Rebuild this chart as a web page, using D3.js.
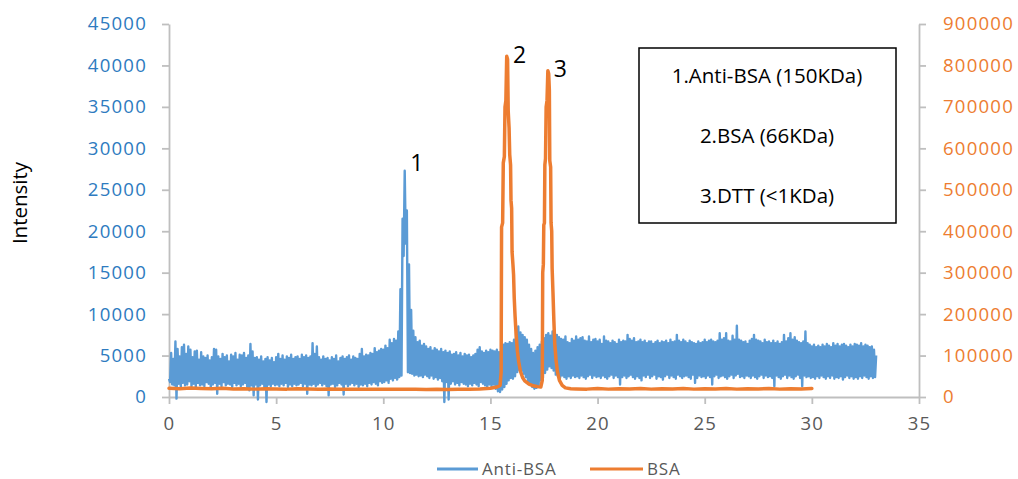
<!DOCTYPE html>
<meta charset="utf-8">
<head>
<style>
 body { margin: 0; background: #fff; }
 svg text { font-family: "Open Sans", sans-serif; }
 .axis path, .axis line { stroke: #bfbfbf; stroke-width: 1.8px; }
 .axis text { font-size: 18.6px; letter-spacing: 1.2px; }
 .x.axis text { fill: #595959; }
 .yl.axis text { fill: #2e7bc0; }
 .yr.axis text { fill: #ed7d31; }
 .legend text { font-size: 17px; fill: #595959; letter-spacing: 0.8px; }
</style>
</head>
<body>
<svg width="1018" height="479"></svg>
<script src="https://cdn.jsdelivr.net/npm/d3@7"></script>
<script>
  // ticks
  var xTicks = [0, 5, 10, 15, 20, 25, 30, 35];
  var leftTicks = [0, 5000, 10000, 15000, 20000, 25000, 30000, 35000, 40000, 45000];
  var rightTicks = [0, 100000, 200000, 300000, 400000, 500000, 600000, 700000, 800000, 900000];

  // Anti-BSA trace, one reading every 0.05 min starting at 0
  var antiStep = 0.05;
  var antiValues = [
    2200,1800, 5300,1500, 4600,1400, 6700,-200, 5800,1600, 4900,1200, 6000,1700, 6300,1400, 5200,1500, 6100,1900,
    5700,1300, 4800,1600, 5500,1200, 5600,1700, 4500,1400, 5400,1500, 4900,1300, 4700,1800, 5000,1600, 4400,1200,
    4800,1500, 5800,1700, 5700,400, 4900,1600, 4600,1300, 5200,1800, 4800,1400, 5000,1600, 4300,1500, 5100,1200,
    4900,1700, 5300,1400, 4500,1600, 5100,1300, 5000,1500, 5300,1700, 4700,1200, 5000,800, 6400,1400, 5500,200,
    4700,1500, 4800,-300, 4500,1400, 4900,1600, 4300,1200, 4600,-600, 4800,1500, 4400,1300, 4700,1600, 4200,1400,
    4800,1500, 5200,1300, 4600,1600, 5000,1400, 4500,1700, 4900,1200, 4700,1500, 5100,1300, 4600,1600, 4800,1400,
    4900,1500, 4600,1700, 5100,1300, 4800,1600, 5000,400, 4700,1500, 4900,1400, 6500,1600, 5200,1300, 6100,1500,
    4800,1700, 4500,1400, 4900,1600, 4600,1300, 4700,200, 4400,1500, 4800,1600, 4600,1200, 5000,1400, 4300,1700,
    4700,1500, 4900,300, 4600,1600, 4800,1300, 5000,1500, 4500,1700, 4900,1400, 4700,1600, 4600,1200, 5200,1500,
    5800,1400, 4900,1600, 5100,1300, 5000,1700, 5300,1500, 5200,1800, 5900,1600, 5400,1400, 5600,1900, 5800,1700,
    5700,1800, 6200,2000, 5900,1700, 6900,2200, 6500,2000, 7000,2300, 6800,2100, 7900,2400, 13000,2600, 21500,17000,
    27300,18500, 22500,3000, 16000,2900, 10500,2800, 8000,2600, 7200,2700, 6600,2500, 6800,2600, 6200,2400, 6400,2700,
    6100,2500, 5800,2300, 6000,2600, 5600,2200, 5900,2400, 5700,2100, 5500,2300, 5800,1900, 5400,-600, 5600,1800,
    5300,-300, 5500,1600, 5100,1900, 5200,1500, 5400,1700, 5000,1400, 5300,1800, 4900,1600, 5200,1500, 5000,1300,
    5100,1600, 4800,1400, 5000,1700, 5200,1500, 5700,1300, 6000,1800, 5500,1600, 5300,1400, 5600,1200, 5400,1500,
    5700,1300, 5600,1500, 5500,1000, 5700,700, 5400,600, 5800,900, 6300,1200, 6500,1600, 6400,2000, 6600,2300,
    6500,2200, 6900,2500, 8000,3000, 8500,3300, 7800,3200, 7500,2800, 7200,2400, 6900,1800, 6300,1500, 5800,1200,
    5300,1000, 5600,1100, 6000,1400, 6300,2000, 6700,2300, 7100,2900, 7500,3300, 7700,3700, 7400,3500, 7900,3200,
    7700,2700, 7500,2500, 7200,2300, 7000,2600, 6900,2400, 7300,2200, 6600,2500, 6500,2300, 7000,2600, 6800,2400,
    7300,2500, 6900,2300, 7100,2600, 7200,2400, 6800,2200, 6700,2500, 7300,2700, 6600,2300, 6900,2600, 7000,2400,
    6700,2500, 6900,2300, 6400,2600, 7300,2400, 6800,2200, 6700,2500, 6500,2700, 6800,2300, 6600,2600, 6400,2400,
    6900,1500, 6600,2400, 6800,2600, 6700,2300, 7500,2500, 7000,2700, 6800,2400, 7100,2200, 6600,2500, 6700,2300,
    6900,2000, 6600,2600, 6800,2400, 6500,2700, 6700,2300, 6700,2500, 6400,2700, 6600,2200, 6800,2500, 6500,2400,
    6700,2100, 6600,2500, 6800,2700, 6500,2300, 6900,2600, 6600,2400, 6700,2200, 7500,2700, 6800,2500, 6600,2300,
    6900,2500, 6700,2600, 6500,2400, 6800,2200, 6600,2700, 6500,1700, 6400,2300, 6700,2600, 6500,2400, 6600,2500,
    6900,2300, 6600,2600, 6800,2400, 6900,1500, 6700,2500, 6600,2700, 6800,2300, 7700,2500, 6900,2600, 7100,2400,
    7700,2200, 6800,2500, 6700,2700, 7400,2300, 6900,2600, 8600,2800, 6900,2400, 6800,2500, 6600,2300, 6700,2600,
    6400,2500, 6800,2300, 7000,2600, 7500,2400, 6900,2200, 6800,2500, 6700,2700, 6500,2300, 6900,2600, 6600,2400,
    6700,2500, 6500,2300, 6800,1300, 6500,2600, 6700,2400, 6400,2200, 6600,2500, 7500,2700, 6700,2300, 7100,2600,
    7700,2400, 6900,2200, 7200,2500, 6800,2700, 6600,2300, 6500,1300, 6700,2600, 7900,2400, 6500,2500, 6300,2300,
    6100,2400, 6300,2200, 6000,2500, 6200,2300, 6000,2600, 6300,2400, 6100,2200, 6400,2500, 6200,2300, 6000,2600,
    6500,2200, 6200,2400, 6400,2300, 6100,2500, 6300,2100, 6400,2400, 6200,2600, 6000,2300, 6300,2500, 6100,2200,
    6400,2400, 6300,2200, 6200,2500, 6500,2300, 6100,2600, 6300,2400, 6200,2200, 6000,2500, 6100,2300, 5700,2400,
    5000
  ];

  // BSA trace (right axis)
  var bsaTime = [
    0, 0.5, 1, 1.5, 2, 2.5, 3, 3.5, 4, 4.5, 5, 5.5, 6, 6.5, 7, 7.5, 8, 8.5, 9, 9.5,
    10, 10.5, 11, 11.5, 12, 12.5, 13, 13.5, 14, 14.5, 15, 15.3,
    15.45, 15.5, 15.52, 15.57, 15.6, 15.65, 15.68, 15.72, 15.76, 15.8, 15.83, 15.87, 15.9, 15.94,
    15.96, 15.99, 16.01, 16.05, 16.08, 16.11, 16.15, 16.2, 16.26, 16.32, 16.4, 16.5, 16.6, 16.8,
    17.0, 17.2, 17.35,
    17.42, 17.44, 17.47, 17.49, 17.52, 17.54, 17.57, 17.6, 17.64, 17.68, 17.72, 17.75, 17.77, 17.81,
    17.83, 17.86, 17.88, 17.92, 17.96, 18.0, 18.06, 18.13, 18.22, 18.35, 18.5, 18.75,
    19, 19.5, 20, 20.5, 21, 21.5, 22, 22.5, 23, 23.5, 24, 24.5, 25, 25.5, 26, 26.5, 27, 27.5,
    28, 28.5, 29, 29.5, 30
  ];
  var bsaValues = [
    21000, 20000, 21500, 20500, 20000, 21000, 19500, 20000, 19000, 20000, 19500, 19000, 20000, 19500, 19000, 19500, 19000, 18500, 19000, 18500,
    19000, 18500, 19000, 18500, 18000, 18500, 18000, 18500, 19000, 19500, 21000, 24000,
    28000, 60000, 410000, 420000, 565000, 580000, 700000, 715000, 822000, 815000, 690000, 650000, 585000, 560000,
    475000, 455000, 350000, 320000, 295000, 240000, 195000, 150000, 110000, 85000, 62000, 47000, 39000, 31000,
    27000, 25000, 24000,
    40000, 300000, 320000, 415000, 420000, 560000, 575000, 700000, 715000, 787000, 780000, 740000, 570000, 555000,
    420000, 400000, 310000, 250000, 185000, 130000, 90000, 60000, 40000, 28000, 22000, 20000,
    19500, 19000, 20500, 19000, 20000, 19500, 20500, 19000, 20000, 19500, 20500, 19000, 20000, 19500, 20500, 19000, 20000, 19500,
    20500, 19000, 20000, 19500, 20500
  ];

  var seriesNames = ['Anti-BSA', 'BSA'];
  var seriesColors = ['#5b9bd5', '#ed7d31'];
  var peakLabels = ['1', '2', '3'];
  var peakTimes = [11.0, 15.8, 17.7];
  var peakHeights = [27300, 820000, 787000];
  var boxLines = ['1.Anti-BSA (150KDa)', '2.BSA (66KDa)', '3.DTT (<1KDa)'];

  var svg = d3.select('svg');
  var x = d3.scaleLinear().domain([0, 35]).range([169, 919]);
  var yL = d3.scaleLinear().domain([0, 45000]).range([397, 24]);
  var yR = d3.scaleLinear().domain([0, 900000]).range([397, 24]);
  var fmt = d3.format('d');

  svg.append('g').attr('class', 'x axis')
      .attr('transform', 'translate(0,397)')
      .call(d3.axisBottom(x).tickValues(xTicks).tickFormat(fmt).tickSize(7).tickSizeOuter(0).tickPadding(13));
  svg.append('g').attr('class', 'yl axis')
      .attr('transform', 'translate(169,0)')
      .call(d3.axisLeft(yL).tickValues(leftTicks).tickFormat(fmt).tickSize(7).tickSizeOuter(0).tickPadding(15));
  svg.append('g').attr('class', 'yr axis')
      .attr('transform', 'translate(919,0)')
      .call(d3.axisRight(yR).tickValues(rightTicks).tickFormat(fmt).tickSize(7).tickSizeOuter(0).tickPadding(17));

  var antiLine = d3.line()
      .x(function(d, i) { return x(i * antiStep); })
      .y(function(d) { return yL(d); });
  svg.append('path')
      .datum(antiValues)
      .attr('d', antiLine)
      .attr('fill', 'none')
      .attr('stroke', seriesColors[0])
      .attr('stroke-width', 2.4)
      .attr('stroke-linejoin', 'round');

  var bsaLine = d3.line()
      .x(function(d, i) { return x(bsaTime[i]); })
      .y(function(d) { return yR(d); });
  svg.append('path')
      .datum(bsaValues)
      .attr('d', bsaLine)
      .attr('fill', 'none')
      .attr('stroke', seriesColors[1])
      .attr('stroke-width', 3.5)
      .attr('stroke-linejoin', 'round')
      .attr('stroke-linecap', 'round');

  // peak numbers
  var peakY = [yL(peakHeights[0]), yR(peakHeights[1]), yR(peakHeights[2])];
  svg.selectAll('.peak').data(peakLabels).enter().append('text')
      .attr('class', 'peak')
      .attr('x', function(d, i) { return x(peakTimes[i]) + 12; })
      .attr('y', function(d, i) { return peakY[i] + (i == 0 ? 0 : 6); })
      .attr('text-anchor', 'middle')
      .style('font-size', '23px')
      .text(function(d) { return d; });

  // annotation box
  svg.append('rect')
      .attr('x', 639).attr('y', 48).attr('width', 257).attr('height', 175)
      .attr('fill', '#fff').attr('stroke', '#000').attr('stroke-width', 1.5);
  svg.selectAll('.boxline').data(boxLines).enter().append('text')
      .attr('x', 767)
      .attr('y', function(d, i) { return 83 + i * 60; })
      .attr('text-anchor', 'middle')
      .style('font-size', '20.5px')
      .text(function(d) { return d; });

  svg.append('text')
      .attr('transform', 'translate(27,203) rotate(-90)')
      .attr('text-anchor', 'middle')
      .style('font-size', '20.5px')
      .text('Intensity');

  // legend
  var legX = [437, 590];
  var legLen = [41, 53];
  var leg = svg.append('g').attr('class', 'legend');
  seriesNames.forEach(function(name, i) {
    leg.append('line')
        .attr('x1', legX[i]).attr('x2', legX[i] + legLen[i])
        .attr('y1', 469).attr('y2', 469)
        .attr('stroke', seriesColors[i]).attr('stroke-width', 3);
    leg.append('text')
        .attr('x', legX[i] + legLen[i] + 4).attr('y', 475)
        .text(name);
  });
</script>
</body>
</html>
